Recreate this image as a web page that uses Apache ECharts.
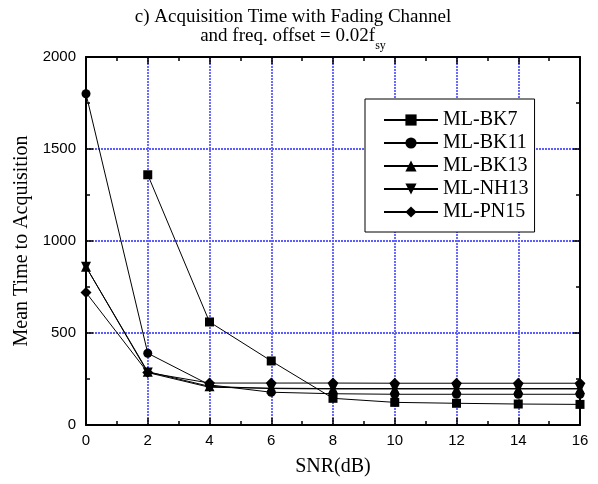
<!DOCTYPE html>
<html>
<head>
<meta charset="utf-8">
<script src="https://cdn.jsdelivr.net/npm/echarts@6/dist/echarts.min.js"></script>
<style>
  html, body { margin: 0; padding: 0; background: #fff; }
  #chart { width: 598px; height: 484px; }
</style>
</head>
<body>
<div id="chart"></div>
<script>
// SNR points (dB)
const snr = [0, 2, 4, 6, 8, 10, 12, 14, 16]

// mean time to acquisition
const bk7  = [null, 1360, 560, 348, 145, 123, 118, 114, 112]
const bk11 = [1800, 390, 218, 178, 170, 167, 167, 167, 167]
const bk13 = [860, 290, 210, 198, 196, 196, 196, 196, 196]
const nh13 = [860, 285, 205, 200, 198, 198, 198, 198, 198]
const pn15 = [720, 285, 228, 228, 228, 227, 227, 227, 227]

const names = ['ML-BK7', 'ML-BK11', 'ML-BK13', 'ML-NH13', 'ML-PN15']
const symbols = ['rect', 'circle', 'triangle', 'path://M0,0 L10,0 L5,9 Z', 'diamond']
const sizes = [9, 9, 10, 10, 11]
const values = [bk7, bk11, bk13, nh13, pn15]

const serif = '"Liberation Serif", "Times New Roman", serif'
const sans = '"Liberation Sans", Arial, sans-serif'

var dom = document.getElementById('chart')
var myChart = echarts.init(dom)

// blue dotted grid like the original (thin lines looked grey, so a bit wider)
const gridLine = () => ({ show: true, lineStyle: { color: '#5c5cff', width: 1.8, type: [2, 1] } })

function frameAxis(extra) {
  return Object.assign({
    type: 'value',
    axisLine: { show: true, onZero: false, lineStyle: { color: '#000', width: 2 } },
    axisTick: { show: true, inside: true, length: 7, lineStyle: { color: '#000', width: 1.5 } },
    minorTick: { show: true, splitNumber: 2, length: 4, lineStyle: { color: '#000', width: 1.5 } },
    splitLine: { show: false },
    minorSplitLine: { show: false },
    axisLabel: { show: false }
  }, extra)
}

let series = names.map((n, i) => ({
  name: n,
  type: 'line',
  data: snr.map((x, j) => [x, values[i][j]]),
  symbol: symbols[i],
  symbolSize: sizes[i],
  showAllSymbol: true,
  lineStyle: { color: '#000', width: 1 },
  itemStyle: { color: '#000' },
  emphasis: { disabled: true },
  z: 3 + i
}))

option = {
  animation: false,
  title: {
    text: 'c) Acquisition Time with Fading Channel\nand freq. offset = 0.02f{s|sy}',
    left: 288,
    top: 3,
    textAlign: 'center',
    textStyle: {
      fontFamily: serif, fontSize: 19, fontWeight: 'normal', color: '#000', lineHeight: 19,
      rich: {
        s: { fontFamily: serif, fontSize: 12, color: '#000', padding: [18, 0, 0, 0] }
      }
    }
  },
  legend: {
    orient: 'vertical',
    left: 365,
    top: 99,
    padding: [11, 6, 10, 18],
    itemWidth: 54,
    itemHeight: 14,
    itemGap: 3,
    backgroundColor: '#fff',
    borderColor: '#000',
    borderWidth: 1,
    textStyle: { fontFamily: serif, fontSize: 20, color: '#000', lineHeight: 20 },
    data: names
  },
  grid: { left: 86, right: 18, top: 57, bottom: 59 },
  xAxis: [
    frameAxis({
      min: 0, max: 16, interval: 2,
      position: 'bottom',
      splitLine: gridLine(),
      axisLabel: { show: true, color: '#000', fontFamily: sans, fontSize: 15, margin: 8 },
      name: 'SNR(dB)',
      nameLocation: 'middle',
      nameGap: 32,
      nameTextStyle: { fontFamily: serif, fontSize: 20, color: '#000' }
    }),
    frameAxis({ min: 0, max: 16, interval: 2, position: 'top' })
  ],
  yAxis: [
    frameAxis({
      min: 0, max: 2000, interval: 500,
      position: 'left',
      splitLine: gridLine(),
      axisLabel: { show: true, color: '#000', fontFamily: sans, fontSize: 15, margin: 10,
        formatter: v => String(v) },
      name: 'Mean Time to Acquisition',
      nameLocation: 'middle',
      nameGap: 50,
      nameTextStyle: { fontFamily: serif, fontSize: 20, color: '#000' }
    }),
    frameAxis({ min: 0, max: 2000, interval: 500, position: 'right' })
  ],
  series: series
}

myChart.setOption(option)
</script>
</body>
</html>
